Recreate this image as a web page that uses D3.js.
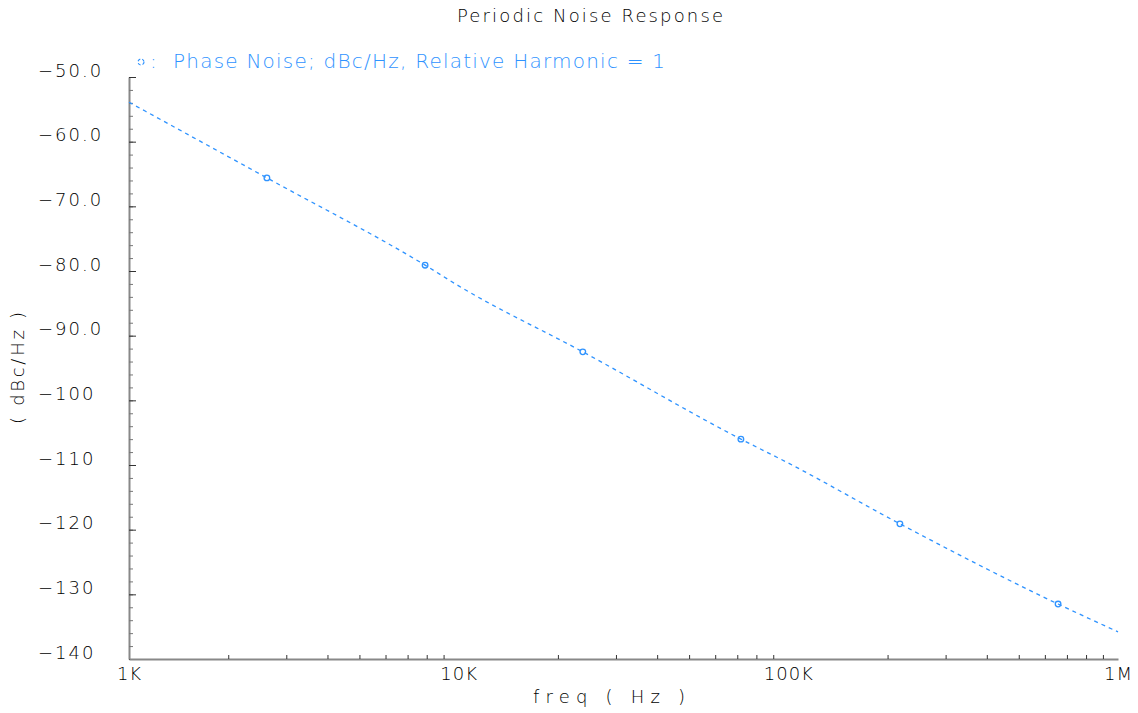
<!DOCTYPE html>
<html>
<head>
<meta charset="utf-8">
<script src="https://cdn.jsdelivr.net/npm/d3@7"></script>
<style>
  body { margin: 0; background: #fff; }
  svg text { font-family: "DejaVu Sans", sans-serif; font-weight: 200; fill: #000; }
</style>
</head>
<body>
<svg id="chart" width="1138" height="713"></svg>
<script>
// data
var freqs = [1e3, 2.62e3, 7.91e3, 1e4, 2.38e4, 7.18e4, 1e5, 2.18e5, 6.58e5, 1e6];
var phaseNoise = [-53.9, -65.6, -79.1, -82.3, -92.5, -106.0, -109.7, -119.1, -131.5, -135.8];
var markerFreqs = [2.62e3, 7.91e3, 2.38e4, 7.18e4, 2.18e5, 6.58e5];
var markerValues = [-65.6, -79.1, -92.5, -106.0, -119.1, -131.5];
var yTicks = [-50, -60, -70, -80, -90, -100, -110, -120, -130, -140];
var yTickLabels = ["\u221250.0", "\u221260.0", "\u221270.0", "\u221280.0", "\u221290.0", "\u2212100", "\u2212110", "\u2212120", "\u2212130", "\u2212140"];
var xTicks = [1e3, 1e4, 1e5, 1e6];
var xTickLabels = ["1K", "10K", "100K", "1M"];

var blue = "#2f93ff";
var svg = d3.select("#chart");
var margin = { left: 129, right: 20, top: 77, bottom: 54 };
var W = 1138, H = 713;

var x = d3.scaleLog().domain([1e3, 1e6]).range([margin.left, W - margin.right]);
var y = d3.scaleLinear().domain([-140, -50]).range([H - margin.bottom, margin.top]);

// minor ticks
var xMinor = [];
[1e3, 1e4, 1e5].forEach(function (d) {
  for (var k = 2; k <= 9; k++) xMinor.push(d * k);
});
var yMinor = d3.range(-140, -49, 2);

// y axis
var gy = svg.append("g").attr("transform", "translate(" + margin.left + ",0)");
gy.call(d3.axisLeft(y).tickValues(yMinor).tickSizeInner(-4).tickSizeOuter(0).tickFormat(""));
gy.select(".domain").attr("stroke", "#888").attr("stroke-width", 2);
gy.selectAll(".tick line").attr("stroke", "#777");
var gy2 = svg.append("g").attr("transform", "translate(" + margin.left + ",0)");
gy2.call(d3.axisLeft(y).tickValues(yTicks).tickSizeInner(-7).tickSizeOuter(0)
  .tickFormat(function (d, i) { return yTickLabels[i]; }));
gy2.select(".domain").remove();
gy2.selectAll(".tick line").attr("stroke", "#333");
gy2.selectAll(".tick text")
  .attr("text-anchor", "start")
  .attr("x", 38 - margin.left)
  .attr("dy", "-0.05em")
  .style("font-size", "18px")
  .style("letter-spacing", "2px");

// x axis
var gx = svg.append("g").attr("transform", "translate(0," + (H - margin.bottom) + ")");
gx.call(d3.axisBottom(x).tickValues(xMinor).tickSizeInner(-4).tickSizeOuter(0).tickFormat(""));
gx.select(".domain").attr("stroke", "#888").attr("stroke-width", 2);
gx.selectAll(".tick line").attr("stroke", "#333");
var gx2 = svg.append("g").attr("transform", "translate(0," + (H - margin.bottom) + ")");
gx2.call(d3.axisBottom(x).tickValues(xTicks).tickSizeInner(0).tickSizeOuter(0).tickPadding(8)
  .tickFormat(function (d, i) { return xTickLabels[i]; }));
gx2.select(".domain").remove();
gx2.selectAll(".tick text").style("font-size", "18px").style("letter-spacing", "1px");

// title & axis labels
svg.append("text").attr("x", 590).attr("y", 22).attr("text-anchor", "middle")
  .style("font-size", "18px").attr("textLength", 266).text("Periodic Noise Response");
svg.append("text").attr("x", 609).attr("y", 703).attr("text-anchor", "middle")
  .style("font-size", "18px").attr("textLength", 152).text("freq ( Hz )");
svg.append("text").attr("transform", "translate(24,368) rotate(-90)").attr("text-anchor", "middle")
  .style("font-size", "18px").attr("textLength", 112).text("( dBc/Hz )");

// legend
svg.append("circle").attr("cx", 141).attr("cy", 62).attr("r", 3)
  .attr("fill", "none").attr("stroke", blue).attr("stroke-width", 1.2).attr("stroke-dasharray", "3,2");
svg.append("text").attr("x", 150).attr("y", 68).style("fill", blue).style("font-size", "20px").text(":");
svg.append("text").attr("x", 173).attr("y", 68).style("fill", blue).style("font-size", "20px")
  .attr("textLength", 492).text("Phase Noise; dBc/Hz, Relative Harmonic = 1");

// series
var pts = freqs.map(function (f, i) { return [f, phaseNoise[i]]; });
var line = d3.line().x(function (d) { return x(d[0]); }).y(function (d) { return y(d[1]); })
  .curve(d3.curveMonotoneX);
svg.append("path").datum(pts).attr("d", line)
  .attr("fill", "none").attr("stroke", blue).attr("stroke-width", 1.3).attr("stroke-dasharray", "4,4");

svg.selectAll(".marker").data(markerFreqs).enter().append("circle")
  .attr("class", "marker")
  .attr("cx", function (d) { return x(d); })
  .attr("cy", function (d, i) { return y(markerValues[i]); })
  .attr("r", 2.8)
  .attr("fill", "none").attr("stroke", blue).attr("stroke-width", 1.3);
</script>
</body>
</html>
